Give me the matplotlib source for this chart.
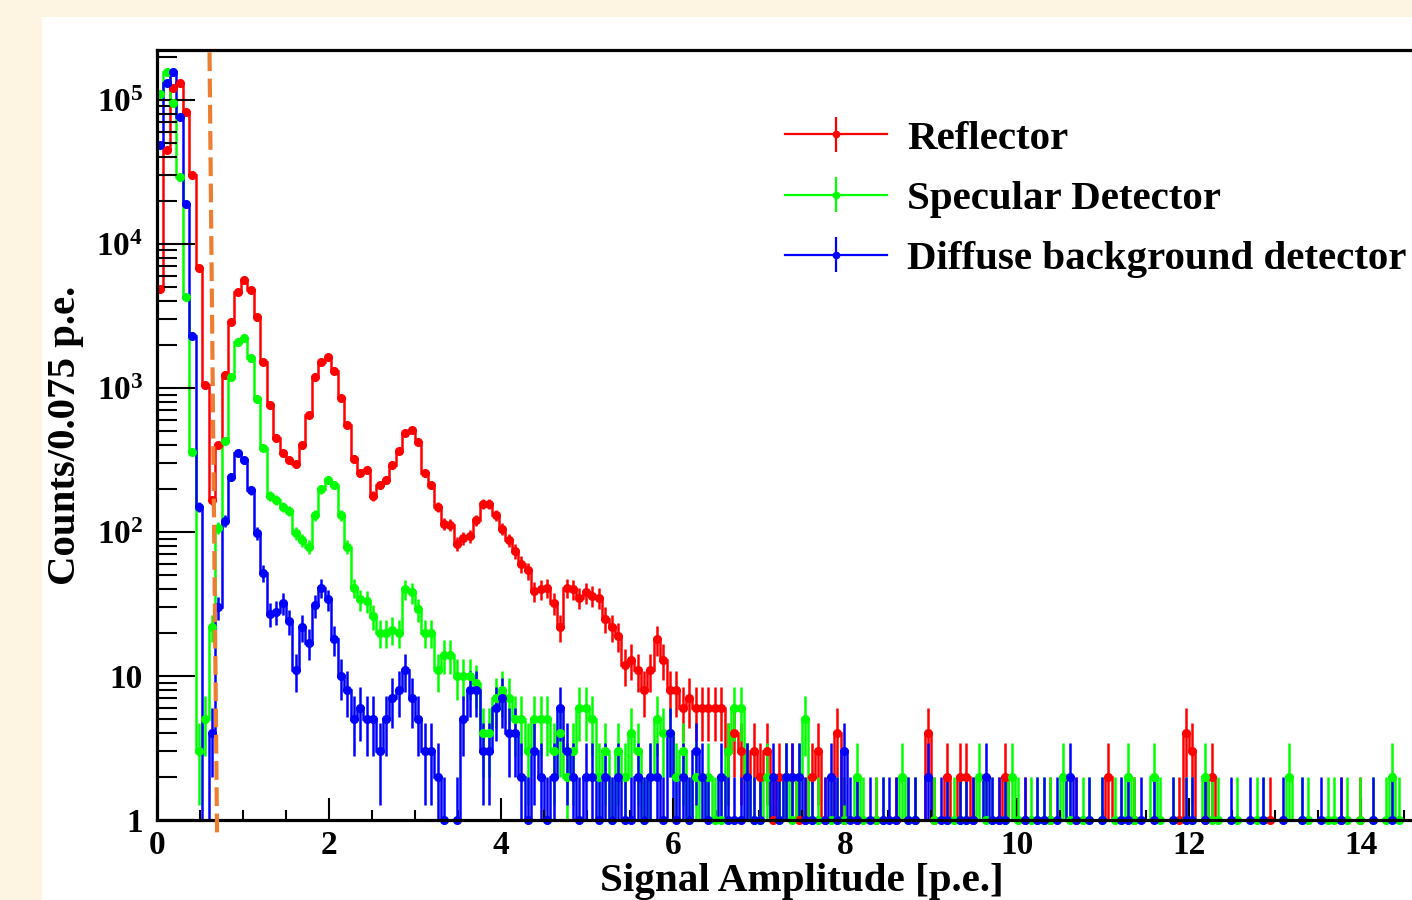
import numpy as np
import matplotlib
matplotlib.use('Agg')
import matplotlib.pyplot as plt
from matplotlib.patches import Rectangle
from matplotlib.lines import Line2D
from matplotlib.collections import LineCollection
from matplotlib.container import ErrorbarContainer
from matplotlib.legend_handler import HandlerErrorbar
from matplotlib.transforms import blended_transform_factory
from matplotlib.ticker import FixedLocator, FixedFormatter, MultipleLocator, LogLocator, NullFormatter

# histogram: 200 bins of 0.075 p.e. starting at 0
bin_width = 0.075
n_bins = 200

reflector = [
    4900, 45000, 120000, 130000, 83000, 30000, 6800, 1050, 166, 400,
    1230, 2870, 4630, 5600, 4800, 3100, 1510, 760, 450, 355,
    316, 296, 400, 650, 1200, 1510, 1650, 1310, 850, 550,
    323, 257, 270, 178, 212, 230, 293, 365, 490, 510,
    420, 257, 212, 149, 114, 112, 83, 91, 94, 121,
    156, 156, 131, 105, 88, 74, 60, 54, 39, 40,
    41, 32, 22, 41, 40, 35, 38, 36, 35, 25,
    22, 19, 12, 13, 11, 8, 11, 18, 13, 8,
    8, 6, 7, 6, 6, 6, 6, 6, 3, 4,
    3, 2, 3, 2, 3, 1, 2, 2, 2, 1,
    1, 2, 3, 1, 0, 4, 1, 0, 1, 0,
    0, 1, 0, 0, 1, 0, 0, 1, 0, 4,
    1, 0, 2, 0, 2, 2, 1, 0, 0, 0,
    1, 2, 0, 0, 1, 0, 0, 0, 1, 0,
    0, 0, 1, 0, 0, 0, 0, 2, 0, 0,
    0, 1, 0, 0, 0, 0, 0, 0, 1, 4,
    3, 0, 1, 2, 0, 0, 0, 0, 0, 0,
    0, 0, 1, 0, 0, 0, 0, 0, 0, 0,
    0, 0, 0, 1, 0, 0, 1, 0, 0, 0,
    0, 0, 0, 0, 0, 0, 0, 0, 0, 0,
]

specular = [
    110000, 155000, 95000, 29000, 4300, 360, 3, 5, 22, 107,
    430, 1200, 2100, 2230, 1620, 840, 380, 178, 167, 149,
    140, 98, 88, 79, 131, 199, 230, 212, 131, 79,
    41, 34, 33, 26, 20, 20, 21, 20, 40, 38,
    29, 20, 20, 11, 14, 14, 10, 10, 10, 9,
    4, 4, 7, 8, 7, 5, 5, 3, 5, 5,
    5, 3, 4, 2, 3, 6, 6, 5, 2, 3,
    1, 3, 2, 4, 3, 1, 2, 5, 4, 4,
    2, 3, 1, 2, 0, 2, 1, 1, 3, 6,
    6, 2, 1, 1, 2, 0, 1, 2, 1, 2,
    5, 1, 1, 0, 1, 1, 1, 0, 2, 1,
    0, 1, 1, 0, 0, 2, 1, 1, 0, 0,
    1, 0, 1, 1, 1, 1, 0, 2, 1, 1,
    0, 1, 2, 1, 0, 1, 1, 1, 1, 0,
    2, 1, 0, 1, 1, 0, 1, 0, 1, 1,
    2, 1, 0, 0, 2, 1, 0, 1, 0, 1,
    1, 0, 2, 1, 1, 0, 0, 1, 0, 0,
    1, 1, 0, 0, 0, 2, 0, 1, 1, 0,
    0, 1, 1, 0, 1, 0, 1, 0, 1, 0,
    1, 2, 1, 0, 0, 1, 0, 0, 1, 0,
]

diffuse = [
    49000, 130000, 155000, 76000, 19000, 2300, 150, 0, 4, 30,
    120, 240, 355, 316, 195, 98, 52, 27, 28, 32,
    24, 11, 22, 17, 31, 41, 34, 18, 10, 8,
    5, 6, 5, 5, 3, 5, 7, 8, 11, 7,
    5, 3, 3, 2, 1, 0, 1, 5, 8, 8,
    3, 3, 6, 7, 4, 4, 2, 1, 3, 2,
    1, 2, 6, 3, 2, 1, 2, 2, 1, 2,
    1, 2, 1, 1, 2, 1, 2, 2, 1, 4,
    1, 2, 1, 3, 2, 1, 0, 2, 1, 1,
    1, 2, 1, 1, 0, 2, 1, 2, 2, 2,
    1, 1, 0, 1, 2, 1, 3, 1, 1, 0,
    1, 0, 1, 1, 1, 0, 1, 1, 0, 2,
    0, 1, 1, 0, 1, 1, 1, 0, 2, 1,
    1, 1, 0, 0, 1, 0, 1, 1, 0, 1,
    0, 2, 1, 0, 1, 0, 1, 0, 0, 1,
    1, 0, 1, 0, 1, 0, 0, 1, 0, 1,
    1, 0, 1, 0, 0, 0, 1, 0, 0, 1,
    0, 1, 0, 0, 1, 0, 0, 1, 0, 0,
    1, 0, 0, 1, 0, 0, 0, 0, 1, 0,
    0, 1, 0, 0, 0, 0, 1, 0, 0, 0,
]

series_labels = ['Reflector', 'Specular Detector', 'Diffuse background detector']
series_colors = ['#FF0000', '#00FF00', '#0000FF']

xtick_values = [0, 2, 4, 6, 8, 10, 12, 14]
ytick_values = [1, 10, 100, 1000, 10000, 100000]
ytick_labels = ['1', '10', '$10^{2}$', '$10^{3}$', '$10^{4}$', '$10^{5}$']

# hand drawn threshold line (x at bottom, x at top)
cut_x = (0.698, 0.61)
cut_y = (-0.016, 1.006)

plt.rcParams['font.family'] = ['Liberation Serif', 'DejaVu Serif']
plt.rcParams['font.weight'] = 'bold'
plt.rcParams['mathtext.fontset'] = 'custom'
plt.rcParams['mathtext.rm'] = 'Liberation Serif:bold'
plt.rcParams['mathtext.it'] = 'Liberation Serif:italic:bold'
plt.rcParams['mathtext.bf'] = 'Liberation Serif:bold'

fig = plt.figure(figsize=(14.12, 9), dpi=100, facecolor='#FDF5E1')
fig.add_artist(Rectangle((42 / 1412, 0), 1, 883 / 900, transform=fig.transFigure,
                         facecolor='white', edgecolor='none', zorder=-5))
ax = fig.add_axes([157 / 1412, 80 / 900, 1290 / 1412, 770 / 900])

edges = np.arange(n_bins + 1) * bin_width
centers = edges[:-1] + bin_width / 2

lw = 1.8
ms = 5.5
handles = []
for counts, color, label in zip([reflector, specular, diffuse], series_colors, series_labels):
    counts = np.array(counts, dtype=float)
    ax.stairs(np.where(counts > 0, counts, 0.1), edges, color=color, lw=lw, baseline=None)
    filled = counts > 0
    n = counts[filled]
    up = np.sqrt(n)
    low = n - np.maximum(n - up, 1)
    eb = ax.errorbar(centers[filled], n, yerr=[low, up], fmt='o', color=color,
                     ms=ms, elinewidth=lw, capsize=0)
    for art in eb.get_children():
        art.set_clip_on(False)
    line = Line2D([], [], color=color, marker='o', ms=4.5, lw=1.6)
    bars = LineCollection([], colors=color, linewidths=1.6)
    handles.append(ErrorbarContainer((line, (), (bars,)), has_xerr=False, has_yerr=True, label=label))

ax.set_yscale('log')
ax.set_xlim(0, 15)
ax.set_ylim(1, 2.22e5)

ax.xaxis.set_major_locator(FixedLocator(xtick_values))
ax.xaxis.set_minor_locator(MultipleLocator(0.5))
ax.yaxis.set_major_locator(FixedLocator(ytick_values))
ax.yaxis.set_major_formatter(FixedFormatter(ytick_labels))
ax.yaxis.set_minor_locator(LogLocator(base=10, subs=np.arange(2, 10)))
ax.yaxis.set_minor_formatter(NullFormatter())

ax.tick_params(axis='both', which='both', direction='in', width=1.5, labelsize=24,
               top=False, right=False)
ax.tick_params(axis='x', which='major', length=16, pad=7)
ax.tick_params(axis='x', which='minor', length=7)
ax.tick_params(axis='y', which='major', length=27, pad=10)
ax.tick_params(axis='y', which='minor', length=14.5)
for sp in ax.spines.values():
    sp.set_linewidth(2.3)

ax.set_xlabel('Signal Amplitude [p.e.]', fontsize=29.6, fontweight='bold', labelpad=2)
ax.set_ylabel('Counts/0.075 p.e.', fontsize=29.4, fontweight='bold', labelpad=9)

trans = blended_transform_factory(ax.transData, ax.transAxes)
ax.plot(cut_x, cut_y, transform=trans, color='#ED7D31', lw=3,
        linestyle=(0, (4.5, 1.8)), clip_on=False, zorder=5)

ax.legend(handles=handles, loc='upper left', bbox_to_anchor=(0.487, 0.909),
          frameon=False, fontsize=29.5, handlelength=2.48, handletextpad=0.5,
          labelspacing=0.55, borderpad=0, borderaxespad=0,
          handler_map={ErrorbarContainer: HandlerErrorbar(yerr_size=0.43)})

fig.savefig('out.png', dpi=100, facecolor=fig.get_facecolor())
